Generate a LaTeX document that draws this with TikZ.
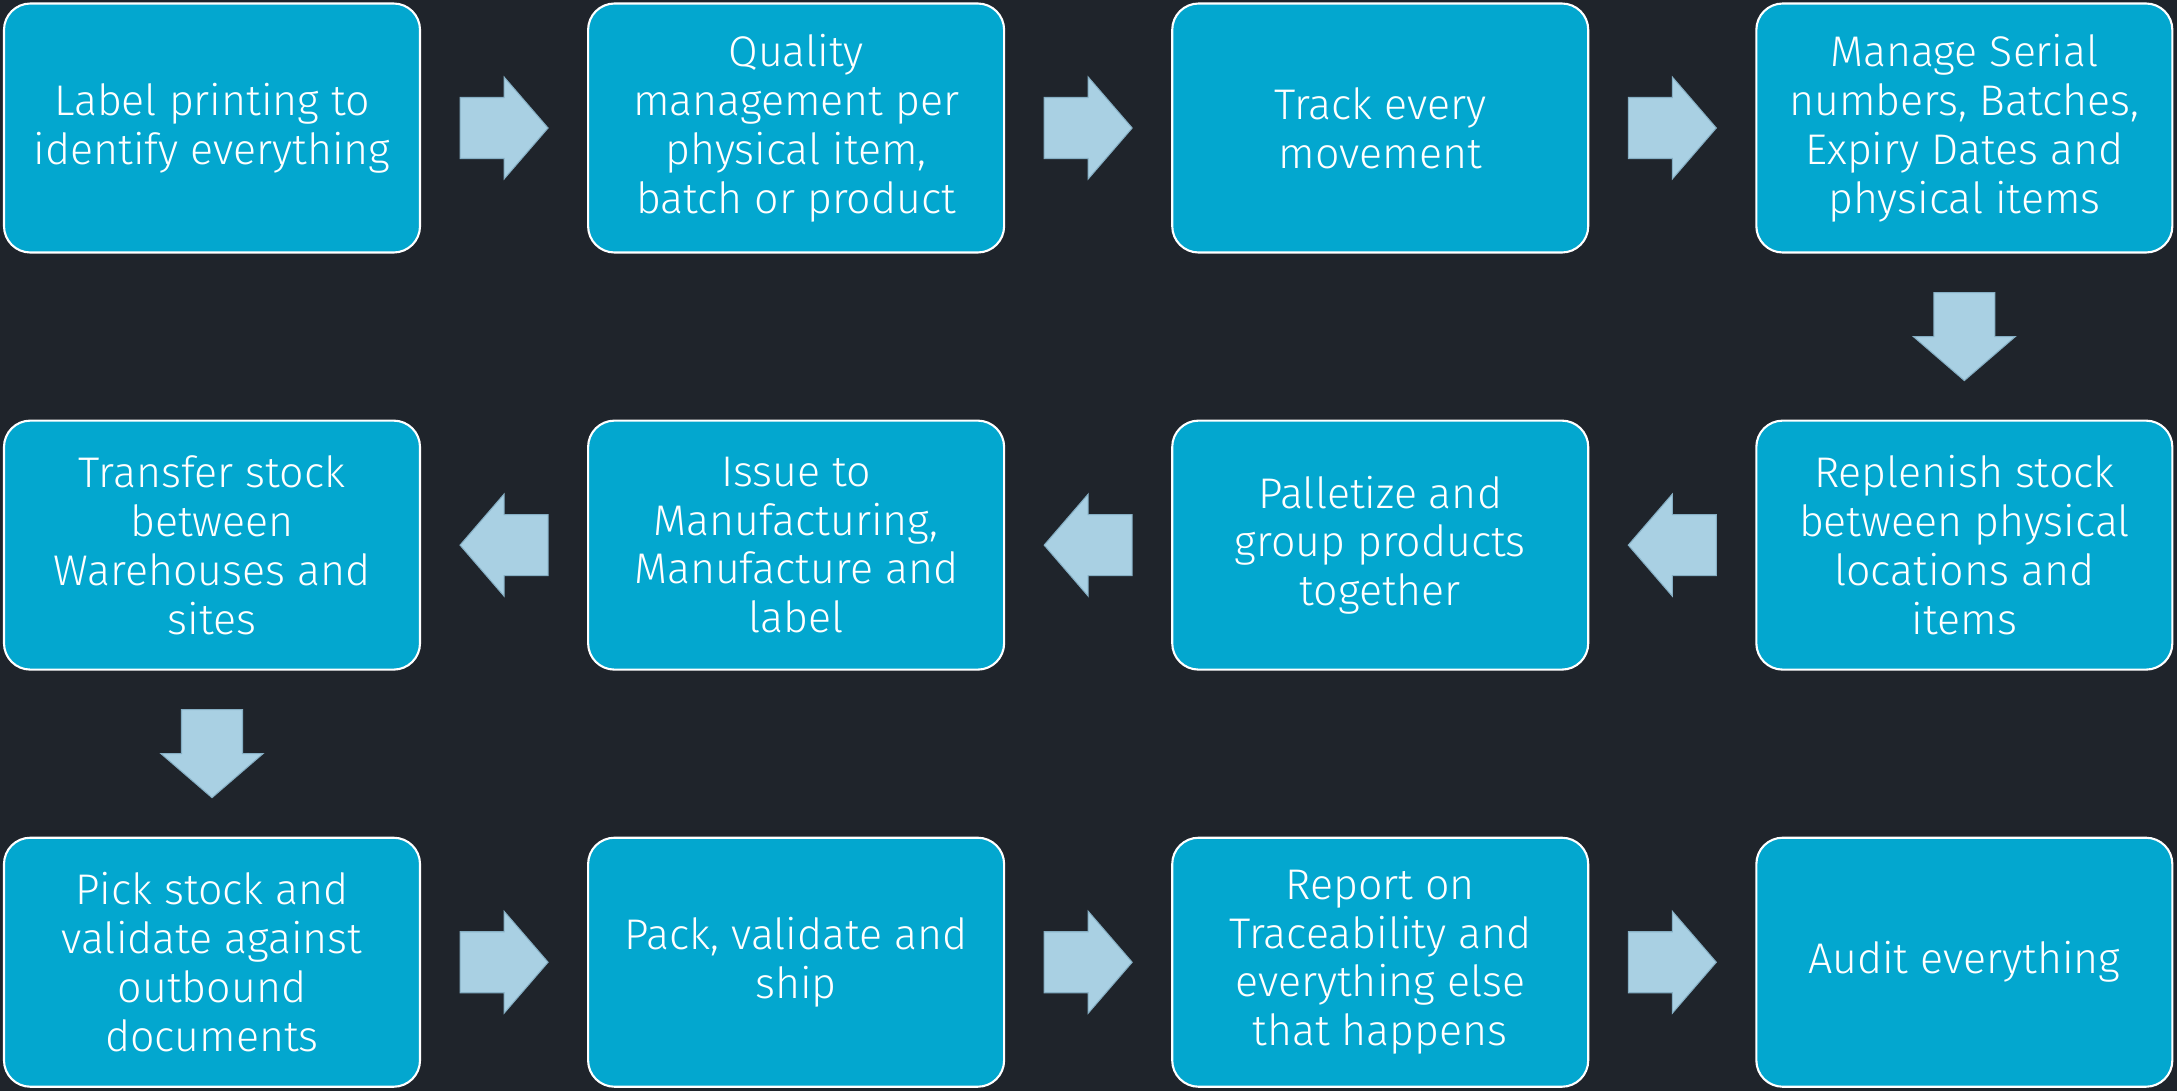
\documentclass[tikz,border=0pt]{standalone}
\usepackage{fontspec}
\setmainfont{Fira Sans}[UprightFont={* Light}]
\usepackage{tikz}
\usetikzlibrary{positioning, calc}
\definecolor{tcBack}{HTML}{1F242B}
\definecolor{tcBox}{HTML}{03A7CF}
\definecolor{tcArrow}{HTML}{A9D0E3}
\definecolor{tcArrowEdge}{HTML}{86AFC4}

% block arrow halfway between two nodes, turned by #3
\newcommand{\blockarrow}[3]{%
  \draw[blockarr, shift={($(#1)!0.5!(#2)$)}, rotate=#3]
    (-0.44,-0.305) -- (0,-0.305) -- (0,-0.51) -- (0.44,0)
    -- (0,0.51) -- (0,0.305) -- (-0.44,0.305) -- cycle;}

\begin{document}
\begin{tikzpicture}[
  tracestep/.style={draw=white, fill=tcBox, line width=0.6pt, rounded corners=7.5pt,
               align=center, text=white, font=\fontsize{12.2}{13.9}\selectfont,
               minimum width=4.16cm, minimum height=2.49cm, inner sep=2pt},
  blockarr/.style={fill=tcArrow, draw=tcArrowEdge, line width=0.3pt}
]
  \fill[tcBack] (0,0) rectangle (21.77,-10.91);
  \useasboundingbox (0,0) rectangle (21.77,-10.91);

  % first row, left to right
  \node[tracestep] (b1) at (2.12,-1.28) {Label printing to\\identify everything};
  \node[tracestep, right=1.66cm of b1] (b2) {Quality\\management per\\physical item,\\batch or product};
  \node[tracestep, right=1.66cm of b2] (b3) {Track every\\movement};
  \node[tracestep, right=1.66cm of b3] (b4) {Manage Serial\\numbers, Batches,\\Expiry Dates and\\physical items};

  % second row, right to left
  \node[tracestep, below=1.66cm of b4] (b5) {Replenish stock\\between physical\\locations and\\items};
  \node[tracestep, left=1.66cm of b5] (b6) {Palletize and\\group products\\together};
  \node[tracestep, left=1.66cm of b6] (b7) {Issue to\\Manufacturing,\\Manufacture and\\label};
  \node[tracestep, left=1.66cm of b7] (b8) {Transfer stock\\between\\Warehouses and\\sites};

  % third row, left to right
  \node[tracestep, below=1.66cm of b8] (b9) {Pick stock and\\validate against\\outbound\\documents};
  \node[tracestep, right=1.66cm of b9] (b10) {Pack, validate and\\ship};
  \node[tracestep, right=1.66cm of b10] (b11) {Report on\\Traceability and\\everything else\\that happens};
  \node[tracestep, right=1.66cm of b11] (b12) {Audit everything};

  \blockarrow{b1.east}{b2.west}{0}
  \blockarrow{b2.east}{b3.west}{0}
  \blockarrow{b3.east}{b4.west}{0}
  \blockarrow{b4.south}{b5.north}{-90}
  \blockarrow{b5.west}{b6.east}{180}
  \blockarrow{b6.west}{b7.east}{180}
  \blockarrow{b7.west}{b8.east}{180}
  \blockarrow{b8.south}{b9.north}{-90}
  \blockarrow{b9.east}{b10.west}{0}
  \blockarrow{b10.east}{b11.west}{0}
  \blockarrow{b11.east}{b12.west}{0}
\end{tikzpicture}
\end{document}
